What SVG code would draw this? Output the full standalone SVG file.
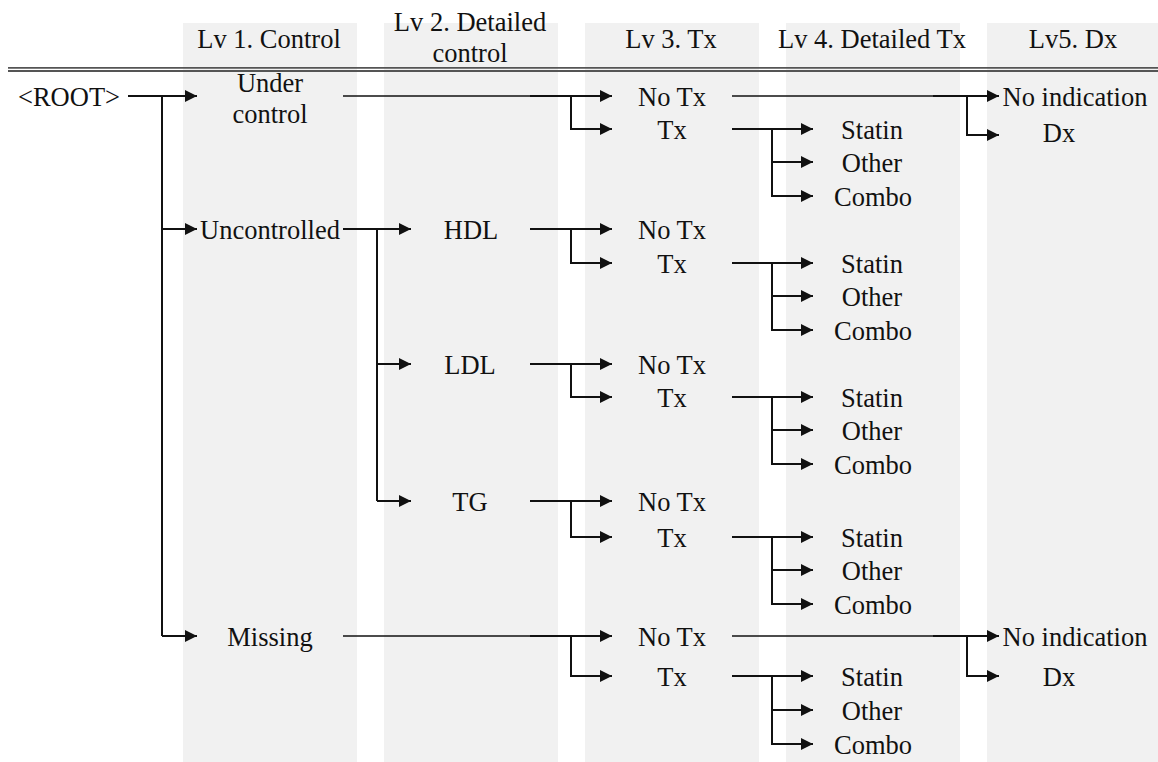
<svg xmlns="http://www.w3.org/2000/svg" width="1158" height="762" viewBox="0 0 1158 762">
<style>
.band{fill:#f1f1f1}
.t{font-family:"Liberation Serif","Times New Roman",serif;font-size:26.5px;fill:#111;text-anchor:middle}
.c{fill:none;stroke:#111;stroke-width:2}
.a{marker-end:url(#arr)}
.thin{stroke-width:1.6}
.hdr{stroke:#555;stroke-width:1.8}
</style>
<defs>
<marker id="arr" markerUnits="userSpaceOnUse" markerWidth="12" markerHeight="12" refX="12" refY="6" orient="auto">
<path d="M0,0 L12,6 L0,12 z" fill="#111"/>
</marker>
</defs>
<rect width="1158" height="762" fill="#fff"/>
<g id="bands">
<rect class="band" x="183" y="23" width="174" height="739"/>
<rect class="band" x="384" y="23" width="174" height="739"/>
<rect class="band" x="585" y="23" width="174" height="739"/>
<rect class="band" x="786" y="23" width="174" height="739"/>
<rect class="band" x="987" y="23" width="171" height="739"/>
</g>
<g id="headers">
<text class="t" x="269" y="48">Lv 1. Control</text>
<text class="t" x="470" y="31">Lv 2. Detailed</text>
<text class="t" x="470" y="62">control</text>
<text class="t" x="671" y="48">Lv 3. Tx</text>
<text class="t" x="872" y="48">Lv 4. Detailed Tx</text>
<text class="t" x="1073" y="48">Lv5. Dx</text>
<line class="hdr" x1="8" y1="67.8" x2="1158" y2="67.8"/>
<line class="hdr" x1="8" y1="71" x2="1158" y2="71"/>
</g>
<g id="connectors">
<path class="c a" d="M128,96 H197"/>
<path class="c" d="M162,96 V636"/>
<path class="c a" d="M162,229 H197"/>
<path class="c a" d="M162,636 H197"/>
<path class="c thin" d="M343,96 H530"/>
<path class="c a" d="M530,96 H612"/>
<path class="c a" d="M571,96 V129 H612"/>
<path class="c a" d="M343,229 H411"/>
<path class="c" d="M377,229 V501"/>
<path class="c a" d="M377,364 H411"/>
<path class="c a" d="M377,501 H411"/>
<path class="c a" d="M530,229 H612"/>
<path class="c a" d="M571,229 V263 H612"/>
<path class="c a" d="M530,364 H612"/>
<path class="c a" d="M571,364 V397 H612"/>
<path class="c a" d="M530,501 H612"/>
<path class="c a" d="M571,501 V537 H612"/>
<path class="c thin" d="M343,636 H530"/>
<path class="c a" d="M530,636 H612"/>
<path class="c a" d="M571,636 V676 H612"/>
<path class="c a" d="M732,129 H813"/>
<path class="c a" d="M772,129 V196 H813"/>
<path class="c a" d="M772,162 H813"/>
<path class="c a" d="M732,263 H813"/>
<path class="c a" d="M772,263 V330 H813"/>
<path class="c a" d="M772,296 H813"/>
<path class="c a" d="M732,397 H813"/>
<path class="c a" d="M772,397 V464 H813"/>
<path class="c a" d="M772,430 H813"/>
<path class="c a" d="M732,537 H813"/>
<path class="c a" d="M772,537 V604 H813"/>
<path class="c a" d="M772,570 H813"/>
<path class="c a" d="M732,676 H813"/>
<path class="c a" d="M772,676 V744 H813"/>
<path class="c a" d="M772,710 H813"/>
<path class="c thin" d="M732,96 H933"/>
<path class="c a" d="M933,96 H999"/>
<path class="c a" d="M967,96 V135 H999"/>
<path class="c thin" d="M732,636 H933"/>
<path class="c a" d="M933,636 H999"/>
<path class="c a" d="M967,636 V676 H999"/>
</g>
<g id="root"><text class="t" x="69" y="106">&lt;ROOT&gt;</text></g>
<g id="under-control"><text class="t" x="270" y="92">Under</text><text class="t" x="270" y="123">control</text></g>
<g id="uncontrolled"><text class="t" x="270" y="239">Uncontrolled</text></g>
<g id="missing"><text class="t" x="270" y="646">Missing</text></g>
<g id="hdl"><text class="t" x="471" y="239">HDL</text></g>
<g id="ldl"><text class="t" x="470" y="374">LDL</text></g>
<g id="tg"><text class="t" x="470" y="511">TG</text></g>
<g id="uc-notx"><text class="t" x="672" y="106">No Tx</text></g>
<g id="uc-tx"><text class="t" x="672" y="139">Tx</text></g>
<g id="hdl-notx"><text class="t" x="672" y="239">No Tx</text></g>
<g id="hdl-tx"><text class="t" x="672" y="273">Tx</text></g>
<g id="ldl-notx"><text class="t" x="672" y="374">No Tx</text></g>
<g id="ldl-tx"><text class="t" x="672" y="407">Tx</text></g>
<g id="tg-notx"><text class="t" x="672" y="511">No Tx</text></g>
<g id="tg-tx"><text class="t" x="672" y="547">Tx</text></g>
<g id="ms-notx"><text class="t" x="672" y="646">No Tx</text></g>
<g id="ms-tx"><text class="t" x="672" y="686">Tx</text></g>
<g id="uc-statin"><text class="t" x="872" y="139">Statin</text></g>
<g id="uc-other"><text class="t" x="872" y="172">Other</text></g>
<g id="uc-combo"><text class="t" x="873" y="206">Combo</text></g>
<g id="hdl-statin"><text class="t" x="872" y="273">Statin</text></g>
<g id="hdl-other"><text class="t" x="872" y="306">Other</text></g>
<g id="hdl-combo"><text class="t" x="873" y="340">Combo</text></g>
<g id="ldl-statin"><text class="t" x="872" y="407">Statin</text></g>
<g id="ldl-other"><text class="t" x="872" y="440">Other</text></g>
<g id="ldl-combo"><text class="t" x="873" y="474">Combo</text></g>
<g id="tg-statin"><text class="t" x="872" y="547">Statin</text></g>
<g id="tg-other"><text class="t" x="872" y="580">Other</text></g>
<g id="tg-combo"><text class="t" x="873" y="614">Combo</text></g>
<g id="ms-statin"><text class="t" x="872" y="686">Statin</text></g>
<g id="ms-other"><text class="t" x="872" y="720">Other</text></g>
<g id="ms-combo"><text class="t" x="873" y="754">Combo</text></g>
<g id="uc-noind"><text class="t" x="1075" y="106">No indication</text></g>
<g id="uc-dx"><text class="t" x="1059" y="142">Dx</text></g>
<g id="ms-noind"><text class="t" x="1075" y="646">No indication</text></g>
<g id="ms-dx"><text class="t" x="1059" y="686">Dx</text></g>
</svg>
